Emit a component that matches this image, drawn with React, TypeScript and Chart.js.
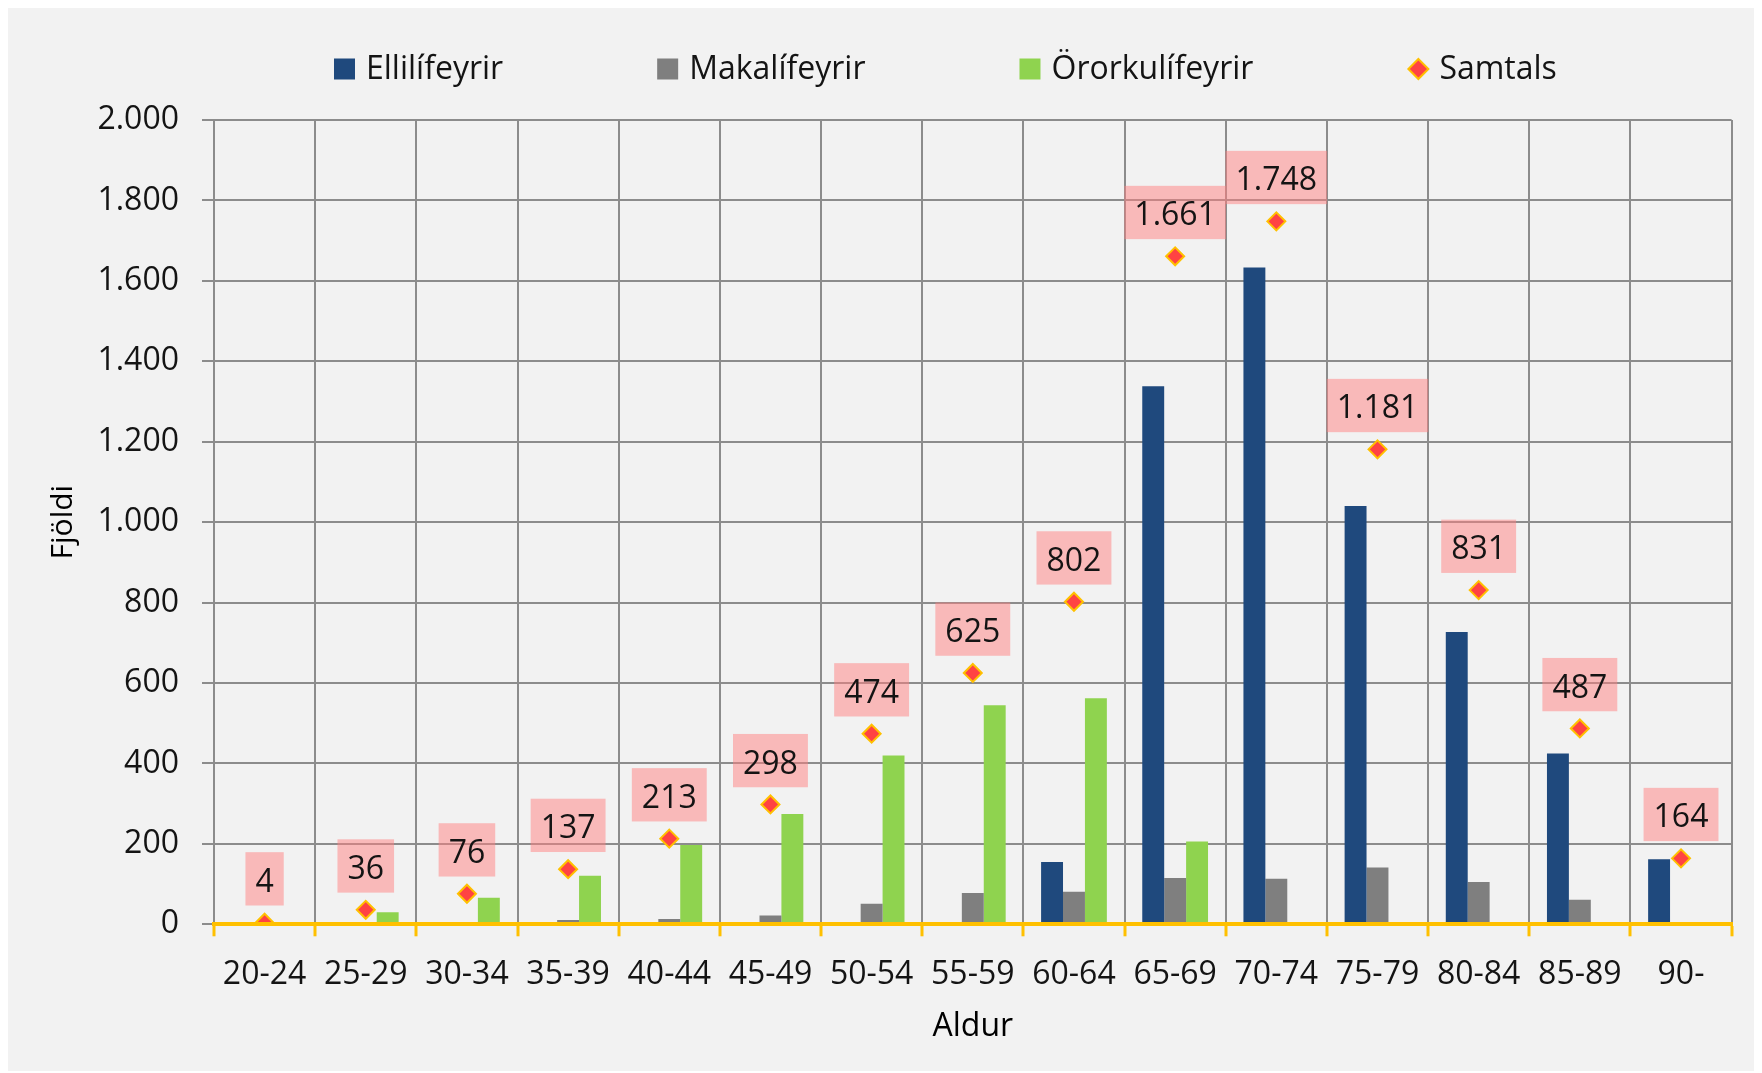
import React, { useEffect, useRef } from 'react';
import { Chart, registerables } from 'chart.js';

Chart.register(...registerables);

const categories = ['20-24', '25-29', '30-34', '35-39', '40-44', '45-49', '50-54', '55-59', '60-64', '65-69', '70-74', '75-79', '80-84', '85-89', '90-'];
const ellilifeyrir = [0, 0, 0, 0, 0, 0, 0, 0, 155, 1338, 1633, 1040, 727, 425, 162];
const makalifeyrir = [0, 2, 4, 11, 13, 22, 51, 78, 81, 115, 113, 141, 105, 61, 2];
const ororkulifeyrir = [4, 30, 66, 121, 197, 274, 420, 545, 562, 206, 0, 0, 0, 0, 0];
const samtals = [4, 36, 76, 137, 213, 298, 474, 625, 802, 1661, 1748, 1181, 831, 487, 164];
const seriesNames = ['Ellilífeyrir', 'Makalífeyrir', 'Örorkulífeyrir', 'Samtals'];
const yMin = 0;
const yMax = 2000;
const yStep = 200;
const xTitle = 'Aldur';
const yTitle = 'Fjöldi';

const FONT = '"Open Sans", "DejaVu Sans", sans-serif';
const BLUE = '#1f497d';
const GRAY = '#7f7f7f';
const GREEN = '#8fd34f';
const RED = '#ff4343';
const GOLD = '#ffc000';
const GRID = '#8c8c8c';
const TEXT = '#141414';

const fmt = (v: number) => String(Math.round(v)).replace(/\B(?=(\d{3})+(?!\d))/g, '.');

const W = 1746;
const H = 1063;
const PLOT_BOTTOM = 916.3;

const labelPlugin = {
  id: 'samtalsLabels',
  afterDatasetsDraw(chart: any) {
    const meta = chart.getDatasetMeta(3);
    const ctx = chart.ctx;
    ctx.save();
    ctx.font = `32px ${FONT}`;
    ctx.textAlign = 'center';
    ctx.textBaseline = 'middle';
    meta.data.forEach((el: any, i: number) => {
      const txt = fmt(samtals[i]);
      const w = ctx.measureText(txt).width + 20;
      const x = el.x;
      const y = el.y;
      ctx.fillStyle = 'rgba(255,128,128,0.5)';
      ctx.fillRect(x - w / 2, y - 70.5, w, 53.3);
      ctx.fillStyle = TEXT;
      ctx.fillText(txt, x, y - 40);
    });
    ctx.restore();
  },
};

const legendPlugin = {
  id: 'customLegend',
  afterDraw(chart: any) {
    const ctx = chart.ctx;
    ctx.save();
    ctx.font = `32px ${FONT}`;
    ctx.textBaseline = 'middle';
    ctx.textAlign = 'left';
    const cy = 61;
    let x = 326;
    const colors = [BLUE, GRAY, GREEN];
    seriesNames.forEach((name, i) => {
      if (i < 3) {
        ctx.fillStyle = colors[i];
        ctx.fillRect(x, cy - 10.5, 21, 21);
      } else {
        const cx = x + 11;
        ctx.beginPath();
        ctx.moveTo(cx, cy - 10);
        ctx.lineTo(cx + 10, cy);
        ctx.lineTo(cx, cy + 10);
        ctx.lineTo(cx - 10, cy);
        ctx.closePath();
        ctx.fillStyle = RED;
        ctx.fill();
        ctx.lineWidth = 2;
        ctx.strokeStyle = GOLD;
        ctx.stroke();
      }
      x += 21 + 11;
      ctx.fillStyle = TEXT;
      ctx.fillText(name, x, cy + 1);
      x += ctx.measureText(name).width + 154;
    });
    ctx.restore();
  },
};

export default function App() {
  const ref = useRef<HTMLCanvasElement | null>(null);

  useEffect(() => {
    if (!ref.current) return;
    const chart = new Chart(ref.current, {
      type: 'bar',
      data: {
        labels: categories,
        datasets: [
          { type: 'bar', label: seriesNames[0], data: ellilifeyrir, backgroundColor: BLUE, borderWidth: 0, categoryPercentage: 0.65, barPercentage: 1.0 },
          { type: 'bar', label: seriesNames[1], data: makalifeyrir, backgroundColor: GRAY, borderWidth: 0, categoryPercentage: 0.65, barPercentage: 1.0 },
          { type: 'bar', label: seriesNames[2], data: ororkulifeyrir, backgroundColor: GREEN, borderWidth: 0, categoryPercentage: 0.65, barPercentage: 1.0 },
          {
            type: 'line', label: seriesNames[3], data: samtals, showLine: false, order: -1,
            pointStyle: 'rectRot', pointRadius: 9, pointHoverRadius: 9, pointBackgroundColor: RED,
            pointBorderColor: GOLD, pointBorderWidth: 2, backgroundColor: RED, borderColor: GOLD,
          } as any,
        ],
      },
      options: {
        responsive: false,
        animation: false,
        devicePixelRatio: 1,
        layout: { padding: { top: 112, right: 22.4, bottom: 0, left: 0 } },
        plugins: {
          legend: { display: false },
          tooltip: { enabled: false },
          title: { display: false },
        },
        scales: {
          x: {
            type: 'category',
            offset: true,
            grid: { display: true, offset: true, color: GRID, lineWidth: 2, drawTicks: true, tickLength: 12, tickColor: GOLD, tickWidth: 3 },
            border: { display: true, color: GOLD, width: 4, z: 1 },
            ticks: { font: { family: FONT, size: 32 }, color: TEXT, padding: 19, autoSkip: false, maxRotation: 0, minRotation: 0 },
            title: { display: true, text: xTitle, font: { family: FONT, size: 32 }, color: '#000', padding: { top: 0, bottom: 25 } },
            afterFit: (scale: any) => { scale.height = H - PLOT_BOTTOM; },
          },
          y: {
            min: yMin,
            max: yMax,
            grid: {
              color: (c: any) => (c.tick && c.tick.value === 0 ? 'rgba(0,0,0,0)' : GRID),
              lineWidth: 2, drawTicks: true, tickLength: 12, tickColor: GRID,
            },
            border: { display: true, color: GRID, width: 2 },
            ticks: { stepSize: yStep, font: { family: FONT, size: 32 }, color: TEXT, padding: 23, callback: (v: any) => fmt(Number(v)) },
            title: { display: true, text: yTitle, font: { family: FONT, size: 30 }, color: '#000', padding: { top: 37, bottom: 0 } },
            afterFit: (scale: any) => { scale.width = 206; },
          },
        },
      } as any,
      plugins: [labelPlugin, legendPlugin],
    });
    return () => chart.destroy();
  }, []);

  return (
    <div style={{ width: W, height: H }}>
      <canvas ref={ref} width={W} height={H} style={{ display: 'block', background: '#f2f2f2', width: W, height: H }} />
    </div>
  );
}
